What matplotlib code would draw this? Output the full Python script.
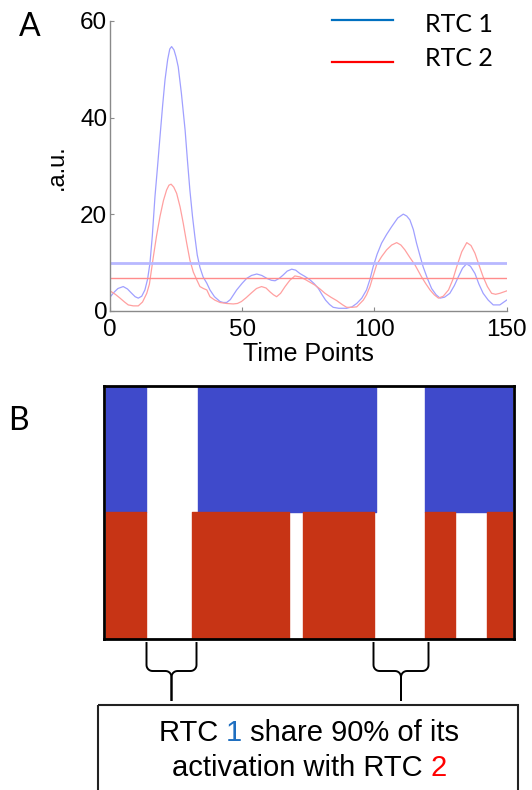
import numpy as np
import matplotlib
matplotlib.use('Agg')
import matplotlib.pyplot as plt
from matplotlib.patches import Rectangle

# ---- data ----
t_rtc1 = [0, 1.5, 3, 5, 6.6, 8.2, 9.5, 10.7, 12, 13.2, 14.2, 15.1, 16, 17, 18, 18.9, 19.9,
          20.8, 21.8, 22.6, 23.3, 24.2, 25, 25.8, 27, 28.4, 29.3, 30.2, 31.2, 32.1, 33,
          34, 35.2, 36.6, 37.8, 39.5, 41.6, 42.8, 44.1, 45.5, 47.9, 50, 51.7, 53.5, 55.5,
          57.4, 59.3, 61, 62.4, 64, 65.5, 67, 68.7, 70.2, 71.8, 73.7, 75.6, 77.2, 78.8,
          80.2, 81.5, 83, 84.4, 86.5, 89.5, 91.5, 93.3, 95.2, 97, 98.3, 99.5, 101, 102.7,
          104.6, 106.5, 108.8, 110.9, 112.2, 113.4, 114.7, 115.9, 117.2, 118.4, 120,
          121.6, 123.3, 124.8, 126.5, 128.5, 130.2, 131.7, 133.3, 134.8, 136.3, 138,
          139.5, 141.1, 143, 144.9, 147.4, 150]
v_rtc1 = [2.8, 3.8, 4.6, 5.0, 4.5, 3.6, 2.9, 2.6, 3.0, 4.3, 6.5, 9.8, 15.5, 23.6, 30, 36, 42.5,
          47.8, 52, 54.2, 54.7, 54, 52.5, 50.5, 45, 37.4, 31, 25, 19.5, 15.3, 11.5,
          9.0, 7.0, 5.7, 4.3, 2.9, 1.9, 1.7, 1.7, 2.3, 4.3, 5.7, 6.7, 7.3, 7.6,
          7.3, 6.7, 6.3, 6.2, 6.7, 7.4, 8.2, 8.6, 8.4, 7.7, 7.1, 6.4, 5.6, 4.6,
          3.3, 2.2, 1.3, 0.7, 0.5, 0.5, 0.8, 1.5, 2.6, 4.3, 6.5, 9.1, 11.7, 14,
          15.8, 17.4, 19.2, 20, 19.6, 18.8, 16.8, 14, 11.4, 9.1, 6.7,
          4.6, 3.3, 2.6, 2.8, 3.6, 5.2, 7, 8.8, 9.7, 9.2, 7.7,
          5.5, 3.6, 2.2, 1.2, 1.2, 2.2]

t_rtc2 = [0, 2, 3.8, 5.5, 6.9, 8.8, 10.7, 12.3, 13.9, 14.9, 16.4, 17.6, 18.9, 20.2, 21.4,
          22.3, 23.1, 24.1, 25.2, 26.5, 27.7, 29, 30.2, 31.5, 32.8, 34, 35.3, 36.6, 37.8,
          39.6, 41.6, 44, 46.6, 48.2, 49.7, 51.5, 53.5, 55.4, 57.3, 59, 60.5, 61.8, 63,
          64.5, 66.2, 68, 69.9, 71.8, 73.7, 75.6, 77.5, 79.4, 81.3, 83.5, 85.7, 88, 89.5,
          91.5, 93.3, 95.8, 97, 98.3, 99.5, 100.8, 102.7, 104.6, 106.5, 108.4, 110, 111.5,
          113.4, 115.3, 117.8, 119.4, 121, 122.6, 124.2, 126, 128, 129.6, 131.1, 133,
          134.9, 136.5, 138, 139.5, 141.1, 142.7, 144.3, 145.8, 147.4, 150]
v_rtc2 = [4.1, 3.4, 2.6, 1.8, 1.2, 1.0, 1.0, 1.8, 3.6, 5.5, 11.2, 15.5, 19.5, 22.8, 25,
          26, 26.2, 25.6, 24.3, 21.5, 18.1, 14, 10.5, 8, 6.4, 5.0, 4.6, 4.3, 2.9,
          2.2, 1.7, 1.5, 1.4, 1.5, 1.9, 2.7, 3.7, 4.6, 5.0, 4.7, 3.9, 3.3, 2.9,
          3.6, 5.0, 6.3, 7.2, 7.0, 6.5, 5.9, 5.3, 4.5, 3.6, 2.8, 2.1, 1.2, 0.7,
          0.7, 0.8, 2.2, 3.3, 5.0, 7.2, 9.5, 11.2, 12.6, 13.6, 14.1, 13.6, 12.6,
          11.0, 9.5, 7.0, 5.6, 4.3, 3.3, 2.6, 3.0, 4.3, 6.4, 9.1, 12.2,
          14.1, 13.5, 11.9, 9.5, 7.0, 5.0, 3.6, 3.4, 3.6, 4.1]

thr_rtc1 = 9.8
thr_rtc2 = 6.7

# active (below threshold) segments shown in panel B
active_rtc1 = [(0, 14.9), (34.0, 99.8), (117.9, 150)]
active_rtc2 = [(0, 14.9), (31.9, 67.8), (72.9, 98.8), (117.9, 128.9), (140.8, 150)]

x_ticks = [0, 50, 100, 150]
y_ticks = [0, 20, 40, 60]

W, H = 532, 790
fig = plt.figure(figsize=(W / 100, H / 100), dpi=100)
plt.rcParams['font.family'] = ['Liberation Sans', 'DejaVu Sans']

gray = '#8a8a8a'

# ---- panel A ----
axA = fig.add_axes([110 / W, 1 - 310.7 / H, 396.7 / W, 289.7 / H])
axA.plot(t_rtc1, v_rtc1, color='#a0a0ff', lw=0.9)
axA.plot(t_rtc2, v_rtc2, color='#ffa0a0', lw=0.9)
axA.axhline(thr_rtc1, color='#b8b8ff', lw=2.0)
axA.axhline(thr_rtc2, color='#ff8c8c', lw=1.0)
axA.set_xlim(0, 150)
axA.set_ylim(0, 60)
axA.set_xticks(x_ticks)
axA.set_yticks(y_ticks)
for s in ['top', 'right']:
    axA.spines[s].set_visible(False)
for s in ['left', 'bottom']:
    axA.spines[s].set_color(gray)
    axA.spines[s].set_linewidth(1.0)
axA.tick_params(direction='in', length=3, color=gray, labelsize=17.5)
axA.tick_params(axis='x', pad=6)
axA.tick_params(axis='y', pad=2)
axA.set_xlabel('Time Points', fontsize=18, labelpad=1)

# ---- panel B ----
axB = fig.add_axes([104 / W, 1 - 639 / H, 410 / W, 253 / H])
axB.broken_barh([(a, b - a) for a, b in active_rtc1], (1, 1), color='#3f4acb')
axB.broken_barh([(a, b - a) for a, b in active_rtc2], (0, 1), color='#c73415')
axB.set_xlim(-0.6, 150.6)
axB.set_ylim(-0.01, 2.01)
axB.set_xticks([])
axB.set_yticks([])
for s in axB.spines.values():
    s.set_linewidth(2)
    s.set_color('black')

# ---- overlay for labels, legend, braces, note ----
ov = fig.add_axes([0, 0, 1, 1])
ov.set_xlim(0, W)
ov.set_ylim(H, 0)
ov.axis('off')

ov.text(30, 27, 'A', fontsize=23, ha='center', va='center', family=['Lato', 'DejaVu Sans'])
ov.text(18.5, 421, 'B', fontsize=23, ha='center', va='center', family=['Lato', 'DejaVu Sans'])
ov.text(57, 167, '.a.u.', fontsize=17, rotation=90, ha='center', va='center')

ov.plot([332, 393], [20, 20], color='#0070c0', lw=1.6)
ov.plot([332, 393], [62, 62], color='#ff0000', lw=1.6)
ov.text(425, 24, 'RTC 1', fontsize=18, ha='left', va='center', family=['Lato', 'DejaVu Sans'])
ov.text(425, 59, 'RTC 2', fontsize=18, ha='left', va='center', family=['Lato', 'DejaVu Sans'])


def brace(x0, x1, ytop=643, ymid=671, ytip=700):
    xc = (x0 + x1) / 2
    r = 6
    xs = np.concatenate([
        [x0, x0],
        x0 + r - r * np.cos(np.linspace(0, np.pi / 2, 8)),
        [xc - r],
        xc - r + r * np.sin(np.linspace(0, np.pi / 2, 8)),
        [xc, xc]])
    ys = np.concatenate([
        [ytop, ymid - r],
        ymid - r + r * np.sin(np.linspace(0, np.pi / 2, 8)),
        [ymid],
        ymid + r - r * np.cos(np.linspace(0, np.pi / 2, 8)),
        [ymid + r, ytip]])
    ov.plot(xs, ys, color='black', lw=1.4)
    ov.plot(2 * xc - xs, ys, color='black', lw=1.4)


brace(146.5, 196.5)
brace(373.5, 428.5)

ov.add_patch(Rectangle((98, 705), 419.5, 100, fill=False, ec='#222222', lw=1.5))

fig.canvas.draw()
rend = fig.canvas.get_renderer()


def width_of(s, size):
    t = ov.text(0, 0, s, fontsize=size)
    w = t.get_window_extent(rend).width
    t.remove()
    return w


def colored_line(parts, xc, yc, size):
    full = ''.join(p for p, c in parts)
    total = width_of(full, size)
    x_pix = ov.transData.transform((xc, yc))[0] - total / 2
    prefix = ''
    for p, c in parts:
        off = width_of(prefix + p, size) - width_of(p, size) if prefix else 0
        x_data = ov.transData.inverted().transform((x_pix + off, 0))[0]
        ov.text(x_data, yc, p, fontsize=size, color=c, ha='left', va='center')
        prefix += p


colored_line([('RTC ', 'black'), ('1', '#1f6fc0'), (' share 90% of its', 'black')], 309, 733, 21)
colored_line([('activation with RTC ', 'black'), ('2', '#ff0000')], 309, 768, 21)

fig.savefig('out.png', dpi=100)
